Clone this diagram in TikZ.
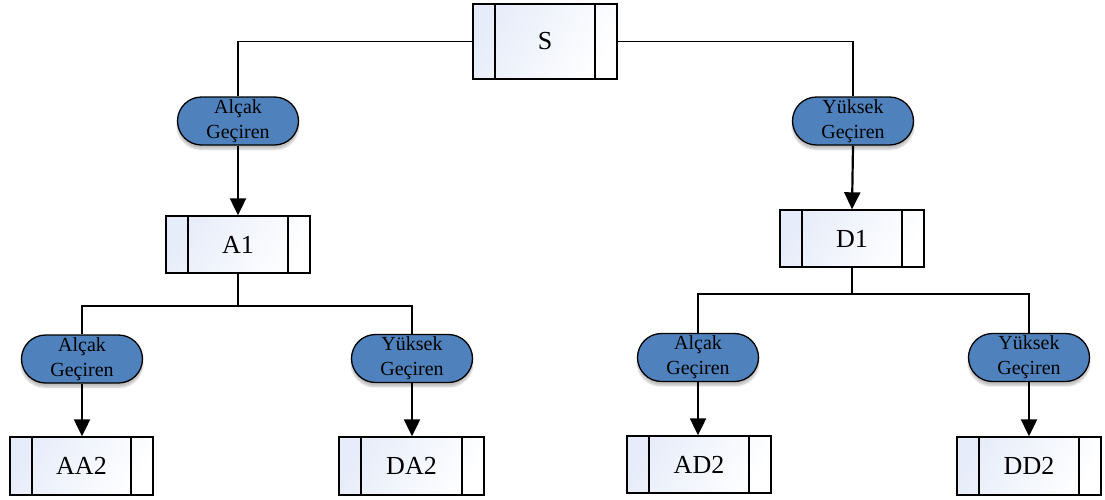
\documentclass[tikz,border=0pt]{standalone}
\usepackage{fontspec}
\setmainfont{Liberation Serif}
\usetikzlibrary{shapes.misc,arrows.meta,shadows.blur}
\definecolor{pillblue}{RGB}{79,130,189}
\definecolor{boxtint}{RGB}{230,236,249}
\tikzset{
  procbox/.style={draw, line width=1.4pt, minimum width=144pt, minimum height=57pt,
    inner sep=0pt, left color=boxtint, right color=white, shading angle=60,
    font=\fontsize{26}{28}\selectfont,
    path picture={
      \draw[line width=1.4pt]
        ([xshift=22pt]path picture bounding box.north west) --
        ([xshift=22pt]path picture bounding box.south west)
        ([xshift=-22pt]path picture bounding box.north east) --
        ([xshift=-22pt]path picture bounding box.south east);}},
  filterpill/.style={draw, line width=1.3pt, rounded rectangle, fill=pillblue,
    minimum width=121pt, minimum height=48pt, inner sep=0pt, align=center,
    font=\fontsize{20}{25}\selectfont,
    blur shadow={shadow xshift=0pt, shadow yshift=-4pt, shadow blur steps=6,
      shadow blur extra rounding=2pt, shadow opacity=25}},
  link/.style={line width=1.2pt},
  flow/.style={line width=2.2pt, -{Triangle[width=16pt,length=17pt]}}
}
\begin{document}
\begin{tikzpicture}[x=1pt,y=-1pt]
\useasboundingbox (0,0) rectangle (1105,499);

% root signal
\node[procbox, minimum height=75pt] (S) at (545,41.5) {S};

% first level filters and outputs
\node[filterpill] (pL1) at (238,121) {Alçak\\Geçiren};
\node[filterpill] (pH1) at (853,121) {Yüksek\\Geçiren};
\node[procbox] (A1) at (238,244.5) {A1};
\node[procbox] (D1) at (852,238.5) {D1};

% second level filters
\node[filterpill] (pAA) at (82,359) {Alçak\\Geçiren};
\node[filterpill] (pDA) at (412,358.5) {Yüksek\\Geçiren};
\node[filterpill] (pAD) at (698,357.5) {Alçak\\Geçiren};
\node[filterpill] (pDD) at (1029,357.5) {Yüksek\\Geçiren};

% second level outputs
\node[procbox, minimum width=143pt, minimum height=58pt] (AA2) at (81.5,466) {AA2};
\node[procbox, minimum width=145pt, minimum height=58pt] (DA2) at (411.5,466) {DA2};
\node[procbox, minimum height=57pt] (AD2) at (699,464.5) {AD2};
\node[procbox, minimum height=58pt] (DD2) at (1029,466) {DD2};

% branching points below A1 and D1
\coordinate (bA) at (238,306);
\coordinate (bD) at (852,294);

% connectors
\draw[link] (S.west) -| (pL1.north);
\draw[link] (S.east) -| (pH1.north);
\draw[flow] (pL1.south) -- (A1.north);
\draw[flow] (pH1.south) -- (D1.north);

\draw[link] (A1.south) -- (bA);
\draw[link] (bA) -| (pAA.north);
\draw[link] (bA) -| (pDA.north);
\draw[link] (D1.south) -- (bD);
\draw[link] (bD) -| (pAD.north);
\draw[link] (bD) -| (pDD.north);

\draw[flow] (pAA.south) -- (pAA.south |- AA2.north);
\draw[flow] (pDA.south) -- (pDA.south |- DA2.north);
\draw[flow] (pAD.south) -- (pAD.south |- AD2.north);
\draw[flow] (pDD.south) -- (pDD.south |- DD2.north);
\end{tikzpicture}
\end{document}
